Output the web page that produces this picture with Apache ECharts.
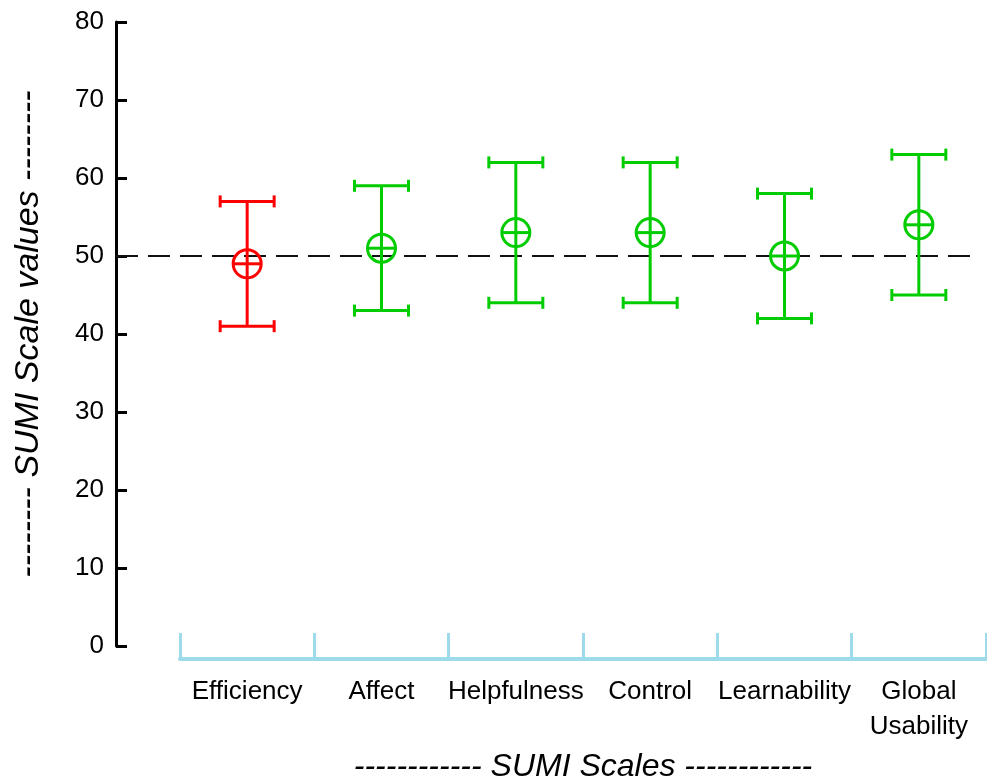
<!DOCTYPE html>
<html>
<head>
<meta charset="utf-8">
<script src="https://cdn.jsdelivr.net/npm/echarts@6/dist/echarts.min.js"></script>
<style>
  html, body { margin: 0; padding: 0; background: #fff; }
  #chart { width: 987px; height: 778px; }
</style>
</head>
<body>
<div id="chart"></div>
<script>
// ---- data ----
const categories = ['Efficiency', 'Affect', 'Helpfulness', 'Control', 'Learnability', 'Global\nUsability'];
const means = [49, 51, 53, 53, 50, 54];
const lows  = [41, 43, 44, 44, 42, 45];
const highs = [57, 59, 62, 62, 58, 63];
const referenceValue = 50;
const yTicks = [0, 10, 20, 30, 40, 50, 60, 70, 80];

// ---- styles ----
const RED = '#ff0000';
const GREEN = '#00cc00';
const FONT = '"Liberation Sans", Arial, sans-serif';

const seriesData = categories.map((c, i) => [i, means[i], lows[i], highs[i]]);

const chart = echarts.init(document.getElementById('chart'), null, { renderer: 'canvas' });

chart.setOption({
  animation: false,
  backgroundColor: '#ffffff',
  grid: [
    { left: 116, right: 7, top: 22, bottom: 132, containLabel: false, outerBoundsMode: 'none' },
    { left: 180, right: 1, top: 22, bottom: 132, containLabel: false, outerBoundsMode: 'none' }
  ],
  xAxis: [
    { gridIndex: 0, type: 'value', min: 0, max: 1, show: false },
    {
      gridIndex: 1,
      type: 'category',
      data: categories,
      boundaryGap: true,
      position: 'bottom',
      offset: 13,
      axisLine: { show: true, onZero: false, lineStyle: { color: '#9ddbea', width: 4 } },
      axisTick: { show: true, inside: true, length: 26, alignWithLabel: false, lineStyle: { color: '#9ddbea', width: 3 } },
      axisLabel: { color: '#000', fontSize: 26, fontFamily: FONT, margin: 15, lineHeight: 35, interval: 0 },
      name: '------------ SUMI Scales ------------',
      nameLocation: 'middle',
      nameGap: 92,
      nameTextStyle: { color: '#000', fontSize: 32, fontStyle: 'italic', fontFamily: FONT }
    }
  ],
  yAxis: [
    {
      gridIndex: 0,
      type: 'value',
      min: yTicks[0],
      max: yTicks[yTicks.length - 1],
      interval: yTicks[1] - yTicks[0],
      axisLine: { show: true, lineStyle: { color: '#000', width: 3 } },
      axisTick: { show: true, inside: true, length: 11, lineStyle: { color: '#000', width: 3 } },
      axisLabel: { color: '#000', fontSize: 26, fontFamily: FONT, margin: 12 },
      splitLine: { show: false },
      name: '-------- SUMI Scale values --------',
      nameLocation: 'middle',
      nameRotate: 90,
      nameGap: 70,
      nameTextStyle: { color: '#000', fontSize: 34, fontStyle: 'italic', fontFamily: FONT }
    },
    {
      gridIndex: 1,
      type: 'value',
      min: yTicks[0],
      max: yTicks[yTicks.length - 1],
      show: false
    }
  ],
  series: [
    {
      type: 'line',
      xAxisIndex: 0,
      yAxisIndex: 0,
      data: [[0, referenceValue], [1, referenceValue]],
      symbol: 'none',
      silent: true,
      lineStyle: { color: '#111', width: 2, type: [22, 10] },
      z: 1
    },
    {
      type: 'custom',
      xAxisIndex: 1,
      yAxisIndex: 1,
      data: seriesData,
      z: 5,
      renderItem: function (params, api) {
        const idx = api.value(0);
        const mean = api.value(1);
        const lo = api.coord([idx, api.value(2)]);
        const hi = api.coord([idx, api.value(3)]);
        const m = api.coord([idx, mean]);
        const color = mean < referenceValue ? RED : GREEN;
        const capHalf = 27;
        const r = 14;
        const style = { stroke: color, lineWidth: 3, fill: null };
        return {
          type: 'group',
          children: [
            { type: 'line', shape: { x1: lo[0], y1: lo[1], x2: hi[0], y2: hi[1] }, style: style },
            { type: 'line', shape: { x1: hi[0] - capHalf, y1: hi[1], x2: hi[0] + capHalf, y2: hi[1] }, style: style },
            { type: 'line', shape: { x1: lo[0] - capHalf, y1: lo[1], x2: lo[0] + capHalf, y2: lo[1] }, style: style },
            { type: 'line', shape: { x1: hi[0] - capHalf, y1: hi[1] - 6, x2: hi[0] - capHalf, y2: hi[1] + 6 }, style: style },
            { type: 'line', shape: { x1: hi[0] + capHalf, y1: hi[1] - 6, x2: hi[0] + capHalf, y2: hi[1] + 6 }, style: style },
            { type: 'line', shape: { x1: lo[0] - capHalf, y1: lo[1] - 6, x2: lo[0] - capHalf, y2: lo[1] + 6 }, style: style },
            { type: 'line', shape: { x1: lo[0] + capHalf, y1: lo[1] - 6, x2: lo[0] + capHalf, y2: lo[1] + 6 }, style: style },
            { type: 'circle', shape: { cx: m[0], cy: m[1], r: r }, style: style },
            { type: 'line', shape: { x1: m[0] - r, y1: m[1], x2: m[0] + r, y2: m[1] }, style: style }
          ]
        };
      }
    }
  ]
});
</script>
</body>
</html>
